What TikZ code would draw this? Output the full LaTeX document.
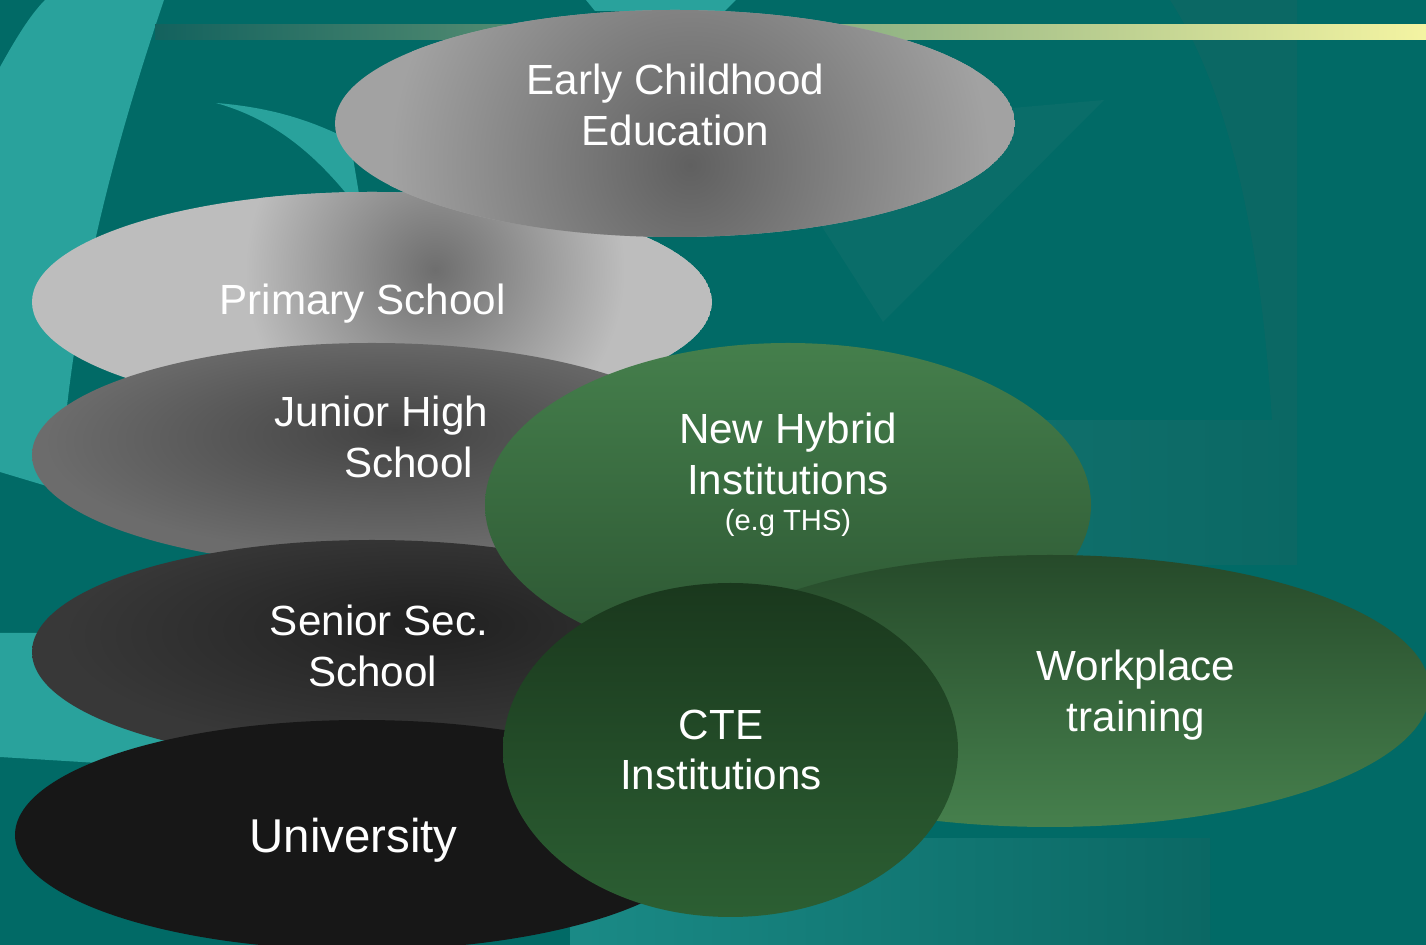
\documentclass[tikz,border=0pt]{standalone}
\usepackage{fontspec}
\setmainfont{Liberation Sans}

\definecolor{bgteal}{HTML}{016A66}
\definecolor{lightteal}{HTML}{29A29C}
\definecolor{paleteal}{HTML}{10706C}
\definecolor{vteal}{HTML}{0A6D69}
\definecolor{bandteal}{HTML}{0B6864}
\definecolor{glowteal}{HTML}{1A8A86}
\definecolor{barleft}{HTML}{13625E}
\definecolor{barmid}{HTML}{9DB783}
\definecolor{barright}{HTML}{F4F4A2}
\definecolor{ecedark}{HTML}{606060}
\definecolor{ecelight}{HTML}{A2A2A2}
\definecolor{primdark}{HTML}{6E6E6E}
\definecolor{primlight}{HTML}{BDBDBD}
\definecolor{jundark}{HTML}{434343}
\definecolor{junlight}{HTML}{6C6C6C}
\definecolor{sendark}{HTML}{202020}
\definecolor{senlight}{HTML}{383838}
\definecolor{unigrey}{HTML}{171717}
\definecolor{hybtop}{HTML}{457F4C}
\definecolor{hybbot}{HTML}{2B5431}
\definecolor{worktop}{HTML}{264A2A}
\definecolor{workbot}{HTML}{46804D}
\definecolor{ctetop}{HTML}{1A381D}
\definecolor{ctebot}{HTML}{2C5F33}

\pgfdeclareradialshading{junshade}{\pgfpoint{1.7bp}{5.6bp}}{color(0bp)=(jundark); color(25bp)=(junlight); color(50bp)=(junlight)}
\pgfdeclareradialshading{senshade}{\pgfpoint{4.3bp}{7bp}}{color(0bp)=(sendark); color(25bp)=(senlight); color(50bp)=(senlight)}

\tikzset{
	lbl/.style={text=white, inner sep=0pt, align=center, font=\fontsize{12}{14.3}\selectfont},
	smalllbl/.style={text=white, inner sep=0pt, font=\fontsize{8.3}{10}\selectfont}
}

\begin{document}
\begin{tikzpicture}
		\useasboundingbox (0,0) rectangle (14.26,-9.45);
		\clip (0,0) rectangle (14.26,-9.45);
		\fill[bgteal] (0,0) rectangle (14.26,-9.45);
		
		% backdrop
		\fill[bandteal] (11.70,0) -- (12.97,0) -- (12.97,-4.21) -- (12.72,-4.21) .. controls (12.62,-2.6) and (12.35,-1.0) .. (11.70,0) -- cycle;
		\shade[left color=paleteal, right color=bandteal] (10.0,-4.21) rectangle (12.97,-5.65);
		\shade[left color=glowteal, right color=bandteal] (5.7,-8.39) rectangle (12.1,-9.45);
		\fill[vteal] (7.60,-1.30) -- (11.04,-1.00) -- (8.83,-3.22) -- cycle;
		\fill[lightteal] (0.45,0) -- (1.64,0) .. controls (1.2,-1.3) and (0.7,-3.0) .. (0.6,-4.9) -- (0,-4.72) -- (0,-0.67) .. controls (0.15,-0.4) and (0.3,-0.15) .. (0.45,0) -- cycle;
		\fill[lightteal] (0,-6.33) -- (1.8,-6.33) -- (1.8,-7.68) -- (0,-7.57) -- cycle;
		\fill[lightteal] (2.16,-1.03) .. controls (2.8,-1.08) and (3.2,-1.25) .. (3.5,-1.40) -- (3.6,-2.0) -- (3.45,-1.92) .. controls (3.1,-1.5) and (2.7,-1.18) .. (2.16,-1.03) -- cycle;
		\fill[lightteal] (5.86,0) -- (7.36,0) -- (7.25,-0.11) -- (5.95,-0.11) -- cycle;
		\shade[left color=barleft, middle color=barmid, right color=barright] (1.55,-0.25) rectangle (14.26,-0.40);
		
		% school stages
		\begin{scope}
			\clip (3.72,-3.02) ellipse (3.40 and 1.10);
			\fill[primlight] (3.72,-3.02) ellipse (3.40 and 1.10);
			\shade[inner color=primdark, outer color=primlight] (4.35,-2.70) circle (1.9);
		\end{scope}
		\begin{scope}
			\clip (6.75,-1.235) ellipse (3.40 and 1.135);
			\fill[ecelight] (6.75,-1.235) ellipse (3.40 and 1.135);
			\shade[inner color=ecedark, outer color=ecelight] (6.90,-1.65) circle (3.0);
		\end{scope}
		\shade[shading=junshade] (3.72,-4.55) ellipse (3.40 and 1.12);
		\shade[shading=senshade] (3.72,-6.52) ellipse (3.40 and 1.12);
		\fill[unigrey] (3.62,-8.35) ellipse (3.47 and 1.15);
		
		% technical routes
		\shade[top color=hybtop, bottom color=hybbot] (7.88,-5.05) ellipse (3.03 and 1.62);
		\shade[top color=worktop, bottom color=workbot] (10.50,-6.91) ellipse (3.80 and 1.36);
		\shade[top color=ctetop, bottom color=ctebot] (7.305,-7.50) ellipse (2.275 and 1.67);
		
		\node[lbl] (ece) at (6.755,-1.05) {Early Childhood\\Education};
		\node[lbl, anchor=base] (primary) at (3.625,-3.15) {Primary School};
		\node[lbl] (junior) at (3.815,-4.37) {Junior High\\\hspace*{15.4pt}School};
		\node[lbl] (senior) at (3.725,-6.46) {\hspace*{3.7pt}Senior Sec.\\School};
		\node[lbl, anchor=base, font=\fontsize{13.5}{16}\selectfont] (univ) at (3.535,-8.53) {University};
		\node[lbl] (hybrid) at (7.88,-4.54) {New Hybrid\\Institutions};
		\node[smalllbl, anchor=base] (hybridnote) at (7.88,-5.31) {(e.g THS)};
		\node[lbl] (cte) at (7.21,-7.50) {CTE\\Institutions};
		\node[lbl] (workplace) at (11.36,-6.95) {Workplace\\training};
	
	\end{tikzpicture}
\end{document}
